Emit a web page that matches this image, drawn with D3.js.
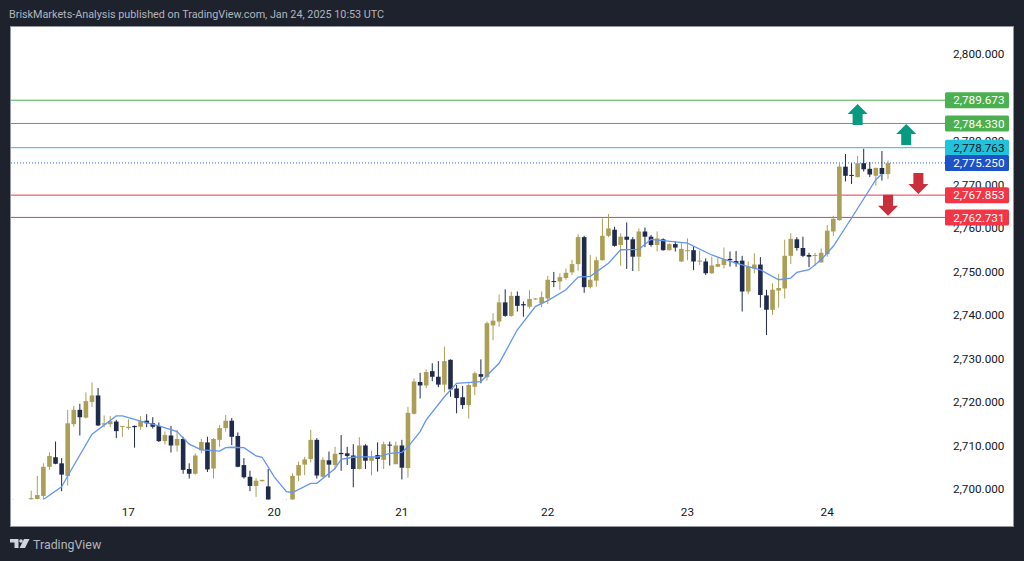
<!DOCTYPE html>
<meta charset="utf-8">
<title>BriskMarkets-Analysis XAUUSD chart</title>
<script src="https://d3js.org/d3.v7.min.js"></script>
<style>
  html, body { margin: 0; padding: 0; background: #1e222d; overflow: hidden; }
  svg { display: block; }
  text { font-family: Roboto, sans-serif; }
</style>
<body>
<svg width="1024" height="561"></svg>
<script>

// Hourly candles (bars 0-2 and 43-45 sit mostly under the pane edge)
var opens = [2696.5,2696.0,2696.5,2697.9,2698.0,2698.7,2705.4,2707.6,2706.2,2703.3,2715.2,2718.5,2716.7,2720.3,2721.8,2715.1,2715.2,2715.8,2714.6,2714.3,2714.8,2714.6,2716.0,2715.4,2714.8,2711.3,2712.6,2710.3,2711.8,2704.9,2703.8,2709.2,2711.0,2705.0,2711.6,2714.3,2716.0,2712.5,2705.8,2703.1,2701.0,2702.1,2700.9,2695.0,2694.5,2695.5,2697.0,2703.4,2705.9,2707.2,2711.6,2703.1,2706.9,2705.8,2708.6,2708.5,2708.0,2704.9,2710.3,2706.8,2708.1,2707.0,2710.5,2706.0,2710.3,2705.1,2717.6,2724.9,2724.1,2727.4,2726.1,2724.3,2730.0,2723.4,2721.4,2719.6,2723.8,2726.7,2726.0,2737.9,2738.8,2743.2,2740.1,2744.7,2742.8,2742.2,2743.9,2743.0,2744.1,2748.1,2748.0,2748.8,2750.1,2752.0,2758.2,2746.7,2748.2,2752.9,2758.5,2759.9,2756.4,2758.3,2757.7,2753.7,2759.5,2758.3,2756.4,2757.7,2755.2,2756.6,2752.6,2755.0,2755.2,2752.6,2752.6,2749.9,2751.4,2751.8,2753.2,2752.7,2752.8,2745.7,2751.0,2751.9,2744.8,2741.5,2745.9,2746.4,2753.9,2757.7,2755.7,2754.1,2753.9,2752.4,2754.3,2759.5,2762.1,2774.4,2772.5,2772.0,2775.2,2773.9,2772.3,2774.1,2772.7];
var highs = [2698.0,2697.0,2697.0,2699.9,2703.3,2706.2,2708.7,2711.2,2707.4,2718.5,2719.4,2719.9,2722.5,2724.8,2723.5,2717.2,2717.1,2716.2,2714.8,2716.3,2714.9,2717.1,2717.5,2716.8,2715.6,2713.5,2714.8,2713.9,2712.3,2706.2,2708.5,2711.8,2712.3,2712.0,2715.0,2717.3,2716.6,2713.3,2707.4,2704.5,2702.8,2702.4,2704.9,2696.5,2696.0,2698.0,2703.9,2706.6,2707.7,2713.9,2712.0,2707.6,2708.9,2710.0,2712.7,2710.0,2710.6,2712.2,2710.6,2709.1,2711.0,2711.2,2711.2,2711.2,2711.6,2719.2,2725.7,2727.0,2727.8,2729.2,2729.7,2733.0,2730.1,2724.2,2724.0,2724.6,2727.3,2730.1,2738.8,2740.7,2745.0,2746.2,2745.7,2745.7,2743.4,2746.0,2744.2,2745.7,2749.3,2750.2,2749.9,2751.0,2753.0,2758.9,2758.5,2754.1,2753.7,2762.5,2763.5,2760.6,2759.1,2761.6,2758.2,2760.2,2760.4,2758.7,2759.5,2757.9,2756.8,2757.2,2756.8,2757.9,2756.0,2755.1,2753.3,2753.7,2753.6,2755.8,2754.9,2755.0,2753.9,2752.6,2754.5,2753.6,2746.1,2747.6,2749.7,2757.6,2759.1,2758.2,2758.3,2754.6,2754.6,2755.6,2761.0,2763.1,2775.2,2777.3,2775.2,2776.9,2778.5,2775.5,2774.2,2778.0,2775.8];
var lows = [2696.0,2695.0,2695.5,2697.7,2697.8,2697.8,2704.7,2706.0,2699.8,2701.1,2714.6,2712.6,2716.5,2719.2,2714.8,2714.5,2714.5,2712.0,2712.3,2713.9,2709.8,2713.9,2714.5,2714.2,2711.1,2710.5,2708.7,2708.9,2703.8,2702.7,2703.6,2708.5,2704.2,2702.7,2710.0,2713.5,2710.4,2705.3,2702.7,2699.8,2698.5,2702.0,2696.5,2693.0,2693.5,2695.0,2696.2,2702.1,2703.5,2706.4,2702.7,2702.9,2702.9,2705.0,2704.5,2705.8,2700.7,2704.8,2704.9,2703.4,2704.3,2704.9,2705.7,2706.0,2702.5,2702.9,2717.4,2721.1,2723.5,2725.1,2723.7,2722.5,2721.5,2717.7,2718.7,2716.5,2721.9,2724.6,2725.2,2734.5,2737.6,2739.9,2739.9,2741.1,2739.9,2741.8,2743.8,2742.1,2742.8,2746.7,2746.1,2748.4,2749.5,2750.5,2745.4,2746.4,2746.8,2752.8,2758.2,2756.0,2751.6,2750.9,2750.4,2750.4,2755.9,2756.0,2754.9,2755.1,2755.1,2754.9,2752.5,2752.9,2750.6,2751.8,2749.5,2749.7,2751.3,2751.0,2751.4,2751.4,2741.1,2745.1,2749.9,2742.0,2735.7,2740.3,2742.0,2744.1,2752.0,2755.1,2753.6,2751.3,2751.6,2752.3,2753.7,2758.5,2762.0,2771.0,2770.4,2771.9,2773.3,2772.0,2770.0,2771.2,2771.6];
var closes = [2697.0,2696.5,2696.0,2698.2,2698.9,2705.4,2707.9,2706.1,2703.6,2715.4,2718.5,2716.8,2720.5,2721.8,2714.9,2715.4,2715.9,2713.6,2714.8,2714.6,2714.5,2715.9,2715.4,2714.6,2711.3,2712.7,2710.3,2711.8,2704.7,2703.8,2708.0,2711.1,2704.8,2711.8,2714.3,2716.0,2712.3,2705.4,2703.0,2701.0,2702.2,2702.4,2697.0,2694.5,2695.5,2697.0,2703.3,2705.8,2707.1,2711.6,2703.4,2707.0,2705.9,2708.4,2708.3,2707.9,2704.9,2710.3,2706.8,2707.6,2707.2,2710.6,2710.3,2710.3,2705.2,2717.8,2725.0,2724.1,2727.2,2726.1,2724.3,2729.7,2723.2,2721.2,2719.6,2724.2,2726.9,2726.1,2738.4,2739.0,2743.2,2740.1,2744.7,2742.4,2742.5,2744.0,2744.1,2744.4,2748.4,2748.0,2749.0,2750.0,2752.0,2758.2,2746.7,2748.4,2752.9,2758.5,2760.2,2756.2,2758.3,2757.6,2753.7,2759.5,2758.3,2756.4,2757.9,2755.2,2756.6,2755.8,2755.5,2755.2,2752.6,2752.8,2749.9,2751.7,2752.0,2753.1,2752.9,2752.2,2745.7,2751.4,2751.9,2744.9,2741.5,2746.1,2746.5,2753.9,2757.8,2755.7,2753.9,2753.7,2754.1,2754.6,2759.7,2762.4,2774.4,2772.3,2772.3,2775.2,2773.8,2772.6,2774.1,2772.7,2775.25];

// Blue moving average, read at the bars where it bends
var maBars = [5,8,9,13,17,18,19,21,24,27,29,31,34,35,36,38,40,41,43,45,46,49,50,53,54,56,58,60,62,64,65,67,68,71,73,77,80,83,86,88,91,93,95,98,100,103,105,107,111,115,117,121,123,126,128,129,131,133,135,138,142,143];
var maValues = [2697.9,2700.8,2703.3,2712.9,2717.1,2717.1,2716.7,2715.9,2714.8,2713.5,2710.6,2709.3,2709.0,2709.8,2709.9,2709.8,2707.9,2707.6,2703.1,2699.7,2699.5,2701.6,2701.6,2705.0,2707.1,2707.6,2707.7,2707.7,2708.5,2708.7,2710.0,2713.5,2716.2,2721.5,2724.6,2725.0,2729.2,2736.9,2742.3,2743.6,2746.1,2749.0,2749.2,2752.2,2755.3,2755.4,2757.7,2757.4,2756.8,2754.1,2753.1,2751.4,2750.7,2748.4,2748.8,2750.1,2750.7,2753.0,2756.1,2762.6,2771.4,2772.7];

// Horizontal levels with their price tags
var levelPrices = [2789.673, 2784.33, 2778.763, 2767.853, 2762.731, 2775.25];
var levelFills = ["#4caf50", "#4caf50", "#22c1dc", "#f23645", "#f23645", "#1e53c8"];
var levelText = ["#ffffff", "#ffffff", "#131722", "#ffffff", "#ffffff", "#ffffff"];

// Arrows: bar position, price at the tip, direction
var arrowBars = [139, 147, 149, 144];
var arrowPrices = [2788.8, 2784.2, 2768.1, 2763.1];
var arrowDirs = ["up", "up", "down", "down"];

var priceTicks = [2700, 2710, 2720, 2730, 2740, 2750, 2760, 2770, 2780, 2790, 2800];
var dayBars = [19, 43, 64, 88, 111, 134];
var dayLabels = ["17", "20", "21", "22", "23", "24"];

var svg = d3.select("svg");

var x = d3.scaleLinear().domain([0, 144]).range([13, 888]);
var y = d3.scaleLinear().domain([2700, 2800]).range([490.3, 55.3]);
var barWidth = 4.6;
var upColor = "#ab9f56", downColor = "#1f2b4c";

// Frame
svg.append("rect")
    .attr("x", 10.5).attr("y", 26.5)
    .attr("width", 1003).attr("height", 500)
    .attr("fill", "#ffffff")
    .attr("stroke", "#9598a1");

svg.append("defs").append("clipPath").attr("id", "pane")
  .append("rect")
    .attr("x", 11).attr("y", 27)
    .attr("width", 933).attr("height", 472.5);

// Header and footer
svg.append("text")
    .attr("x", 9).attr("y", 18)
    .attr("fill", "#b2b5be")
    .style("font-size", "10.8px")
    .text("BriskMarkets-Analysis published on TradingView.com, Jan 24, 2025 10:53 UTC");

svg.append("path")
    .attr("fill", "#d1d4dc")
    .attr("d", "M10 539h8.5v9h-4v-5.5h-4.5z M24 539h5.5l-4.5 9h-5.5z")
svg.append("circle").attr("cx", 21).attr("cy", 541).attr("r", 1.8).attr("fill", "#d1d4dc");
svg.append("text")
    .attr("x", 33).attr("y", 549)
    .attr("fill", "#b2b5be")
    .style("font-size", "12.4px")
    .text("TradingView");

// Axes
var yAxis = d3.axisRight(y)
    .tickValues(priceTicks)
    .tickFormat(d3.format(",.3f"))
    .tickSize(0)
    .tickPadding(0);

var yG = svg.append("g")
    .attr("transform", "translate(953,-1.2)")
    .call(yAxis);
yG.select(".domain").remove();
yG.selectAll("text")
    .attr("fill", "#131722")
    .style("font-size", "11.7px")
    .style("font-family", "Roboto, sans-serif");

var xAxis = d3.axisBottom(x)
    .tickValues(dayBars)
    .tickFormat(function(d) { return dayLabels[dayBars.indexOf(d)]; })
    .tickSize(0)
    .tickPadding(9);

var xG = svg.append("g")
    .attr("transform", "translate(-0.6,499)")
    .call(xAxis);
xG.select(".domain").remove();
xG.selectAll("text")
    .attr("fill", "#131722")
    .style("font-size", "11.7px")
    .style("font-family", "Roboto, sans-serif");

// Level lines
svg.selectAll(".level")
    .data(levelPrices)
  .enter().append("line")
    .attr("class", "level")
    .attr("x1", 11).attr("x2", 945)
    .attr("y1", function(d) { return y(d); })
    .attr("y2", function(d) { return y(d); })
    .attr("stroke", function(d, i) { return i === 5 ? "#2962ff" : levelFills[i]; })
    .attr("stroke-width", 1)
    .attr("stroke-dasharray", function(d, i) { return i === 5 ? "1,2" : null; });

// Candles
var plot = svg.append("g").attr("clip-path", "url(#pane)");

var candle = plot.selectAll(".candle")
    .data(opens)
  .enter().append("g")
    .attr("class", "candle")
    .attr("fill", function(d, i) { return closes[i] >= opens[i] ? upColor : downColor; })
    .attr("stroke", function(d, i) { return closes[i] >= opens[i] ? upColor : downColor; });

candle.append("line")
    .attr("x1", function(d, i) { return x(i); })
    .attr("x2", function(d, i) { return x(i); })
    .attr("y1", function(d, i) { return y(highs[i]); })
    .attr("y2", function(d, i) { return y(lows[i]); })
    .attr("stroke-width", 1);

candle.append("rect")
    .attr("stroke", "none")
    .attr("x", function(d, i) { return x(i) - barWidth / 2; })
    .attr("width", barWidth)
    .attr("y", function(d, i) { return y(Math.max(opens[i], closes[i])); })
    .attr("height", function(d, i) { return Math.max(1, Math.abs(y(opens[i]) - y(closes[i]))); });

// Moving average
var maLine = d3.line()
    .x(function(d) { return x(d); })
    .y(function(d, i) { return y(maValues[i]); });

plot.append("path")
    .attr("d", maLine(maBars))
    .attr("fill", "none")
    .attr("stroke", "#6395f5")
    .attr("stroke-width", 1.3);

// Arrows, 20 wide and 21 tall
var arrowShape = {
  up: "M0 0L10 10H5V21H-5V10H-10Z",
  down: "M0 0L10 -10H5V-21H-5V-10H-10Z"
};

svg.selectAll(".arrow")
    .data(arrowBars)
  .enter().append("path")
    .attr("class", "arrow")
    .attr("transform", function(d, i) { return "translate(" + x(d) + "," + y(arrowPrices[i]) + ")"; })
    .attr("d", function(d, i) { return arrowShape[arrowDirs[i]]; })
    .attr("fill", function(d, i) { return arrowDirs[i] === "up" ? "#089981" : "#cc2f3c"; });

// Price tags go on top of the axis labels
var tag = svg.selectAll(".tag")
    .data(levelPrices)
  .enter().append("g")
    .attr("class", "tag")
    .attr("transform", function(d) { return "translate(945," + y(d) + ")"; });

tag.append("rect")
    .attr("y", -8)
    .attr("width", 64).attr("height", 16)
    .attr("rx", 1.5)
    .attr("fill", function(d, i) { return levelFills[i]; });

tag.append("text")
    .attr("x", 59.5)
    .attr("dy", "0.35em")
    .attr("text-anchor", "end")
    .attr("fill", function(d, i) { return levelText[i]; })
    .style("font-size", "11.7px")
    .text(d3.format(",.3f"));

</script>
</body>
